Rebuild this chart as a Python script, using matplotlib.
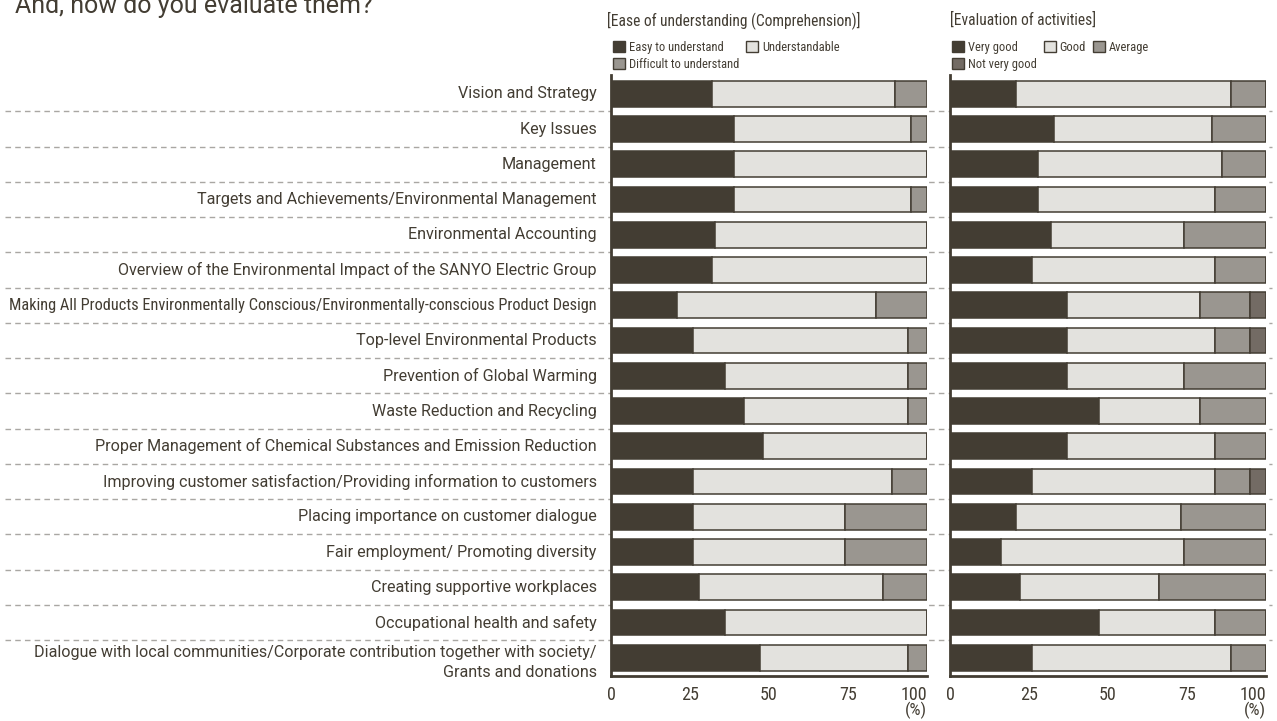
#!/usr/bin/env python3
"""Survey results: ease of understanding and evaluation of activities per report section."""

import matplotlib

matplotlib.use("Agg")
import matplotlib.pyplot as plt
from matplotlib import font_manager
from matplotlib.lines import Line2D
from matplotlib.patches import Patch
from matplotlib.transforms import blended_transform_factory

categories = [
    "Vision and Strategy",
    "Key Issues",
    "Management",
    "Targets and Achievements/Environmental Management",
    "Environmental Accounting",
    "Overview of the Environmental Impact of the SANYO Electric Group",
    "Making All Products Environmentally Conscious/Environmentally-conscious Product Design",
    "Top-level Environmental Products",
    "Prevention of Global Warming",
    "Waste Reduction and Recycling",
    "Proper Management of Chemical Substances and Emission Reduction",
    "Improving customer satisfaction/Providing information to customers",
    "Placing importance on customer dialogue",
    "Fair employment/ Promoting diversity",
    "Creating supportive workplaces",
    "Occupational health and safety",
    "Dialogue with local communities/Corporate contribution together with society/\nGrants and donations",
]

# [Ease of understanding (Comprehension)]  (%)
ease_easy = [32, 39, 39, 39, 33, 32, 21, 26, 36, 42, 48, 26, 26, 26, 28, 36, 47]
ease_understandable = [58, 56, 61, 56, 67, 68, 63, 68, 58, 52, 52, 63, 48, 48, 58, 64, 47]
ease_difficult = [10, 5, 0, 5, 0, 0, 16, 6, 6, 6, 0, 11, 26, 26, 14, 0, 6]

# [Evaluation of activities]  (%)
eval_very_good = [21, 33, 28, 28, 32, 26, 37, 37, 37, 47, 37, 26, 21, 16, 22, 47, 26]
eval_good = [68, 50, 58, 56, 42, 58, 42, 47, 37, 32, 47, 58, 52, 58, 44, 37, 63]
eval_average = [11, 17, 14, 16, 26, 16, 16, 11, 26, 21, 16, 11, 27, 26, 34, 16, 11]
eval_not_very_good = [0, 0, 0, 0, 0, 0, 5, 5, 0, 0, 0, 5, 0, 0, 0, 0, 0]

x_ticks = [0, 25, 50, 75, 100]

INK = "#433d33"
LIGHT = "#e3e2de"
MID = "#9a9690"
DARKGREY = "#736b64"
DASH = "#a9a7a3"

available = {f.name for f in font_manager.fontManager.ttflist}


def pick(cands):
    for c in cands:
        if c in available:
            return c
    return "DejaVu Sans"


NARROW = pick(["Roboto Condensed", "Liberation Sans Narrow", "Lato"])
WIDE = pick(["Roboto", "Lato", "Open Sans"])
plt.rcParams["font.family"] = [NARROW, "DejaVu Sans"]
plt.rcParams["text.color"] = INK


def draw_panel(ax, series, colors):
    y = list(range(len(categories)))
    left = [0] * len(categories)
    for vals, col in zip(series, colors):
        ax.barh(y, vals, left=left, height=0.73, color=col,
                edgecolor=INK, linewidth=1.1, zorder=3)
        left = [a + b for a, b in zip(left, vals)]
    ax.set_xlim(0, 100)
    ax.set_ylim(len(categories) - 0.485, -0.535)
    ax.set_yticks([])
    ax.set_xticks(x_ticks)
    labels = ax.set_xticklabels([str(t) for t in x_ticks], fontsize=13, color=INK)
    labels[-1].set_horizontalalignment("right")
    ax.tick_params(axis="x", length=0, pad=7)
    for s in ("top", "right"):
        ax.spines[s].set_visible(False)
    for s in ("left", "bottom"):
        ax.spines[s].set_color(INK)
        ax.spines[s].set_linewidth(2)
    ax.text(1.0, -0.057, "(%)", transform=ax.transAxes, ha="right", va="center",
            fontsize=12.5, color=INK)


fig = plt.figure(figsize=(12.77, 7.21), dpi=100)
ax1 = fig.add_axes([611 / 1277, 45 / 721, 316 / 1277, 601 / 721])
ax2 = fig.add_axes([950 / 1277, 45 / 721, 316 / 1277, 601 / 721])

ease_colors = [INK, LIGHT, MID]
eval_colors = [INK, LIGHT, MID, DARKGREY]
draw_panel(ax1, [ease_easy, ease_understandable, ease_difficult], ease_colors)
draw_panel(ax2, [eval_very_good, eval_good, eval_average, eval_not_very_good], eval_colors)

# category labels
ytrans = ax1.get_yaxis_transform()
for i, name in enumerate(categories):
    if "\n" in name:
        ax1.text(-0.045, i - 0.36, name, transform=ytrans, ha="right", va="top",
                 fontsize=11.6, family=WIDE, color=INK, linespacing=1.4)
    elif len(name) > 80:
        # squeezed label, as in the original
        ax1.text(-0.045, i, name, transform=ytrans, ha="right", va="center",
                 fontsize=11.8, family=NARROW, color=INK)
    else:
        ax1.text(-0.045, i, name, transform=ytrans, ha="right", va="center",
                 fontsize=11.6, family=WIDE, color=INK)

# dashed separators running across the whole figure
sep = blended_transform_factory(fig.transFigure, ax1.transData)
for i in range(len(categories) - 1):
    fig.add_artist(Line2D([0.004, 0.996], [i + 0.5, i + 0.5], transform=sep,
                          color=DASH, linewidth=1.0, linestyle=(0, (4, 3)), zorder=0))

# headers and legends
fig.text(607 / 1277, 1 - 20 / 721, "[Ease of understanding (Comprehension)]",
         fontsize=11.2, va="center", ha="left")
fig.text(950 / 1277, 1 - 20 / 721, "[Evaluation of activities]",
         fontsize=11.2, va="center", ha="left")
fig.text(15 / 1277, 1 - 13 / 721, "And, how do you evaluate them?",
         fontsize=18, family=WIDE, va="baseline", ha="left")

ease_labels = ["Easy to understand", "Understandable", "Difficult to understand"]
eval_labels = ["Very good", "Good", "Average", "Not very good"]


def add_legend(ax, labels, colors, order, ncol):
    handles = [Patch(facecolor=colors[k], edgecolor=INK, linewidth=1.0, label=labels[k])
               for k in order]
    ax.legend(handles=handles, ncol=ncol, loc="lower left",
              bbox_to_anchor=(-0.02, 0.992), frameon=False, fontsize=9,
              handlelength=0.95, handleheight=0.95, handletextpad=0.3,
              columnspacing=0.55, labelspacing=0.35, borderpad=0.2,
              labelcolor=INK)


add_legend(ax1, ease_labels, ease_colors, [0, 2, 1], 2)
add_legend(ax2, eval_labels, eval_colors, [0, 3, 1, 2], 3)

fig.savefig("out.png", dpi=100)
